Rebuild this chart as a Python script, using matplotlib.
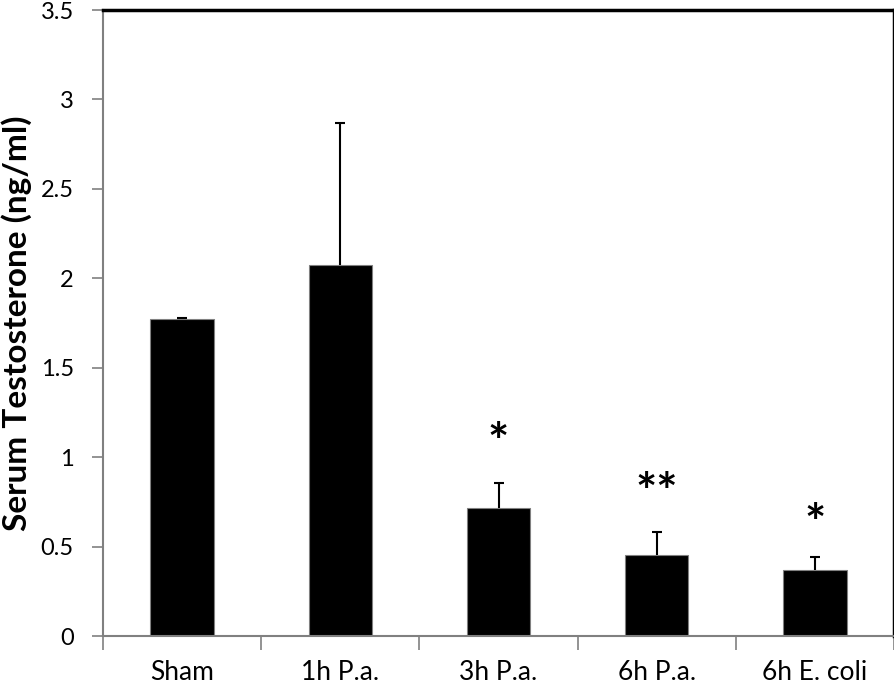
import numpy as np
import matplotlib
matplotlib.use("Agg")
import matplotlib.pyplot as plt

groups = ["Sham", "1h P.a.", "3h P.a.", "6h P.a.", "6h E. coli"]
means = [1.775, 2.072, 0.716, 0.453, 0.369]
errs = [0.005, 0.796, 0.140, 0.129, 0.073]
stars = ["", "", "*", "**", "*"]
star_y = [0, 0, 1.07, 0.79, 0.62]

plt.rcParams['font.family'] = ['Lato', 'DejaVu Sans']

fig = plt.figure(figsize=(8.95, 6.87), dpi=100)
ax = fig.add_axes([0.1151, 0.0742, 0.8838, 0.9112])

x = np.arange(len(groups))
ax.bar(x, means, width=0.40, color='black', edgecolor='#808080', linewidth=0.8, zorder=2)
# upper error bars only
eb = ax.errorbar(x, means, yerr=[np.zeros(len(errs)), errs], fmt='none', ecolor='black',
                 elinewidth=1.5, capsize=3.3, capthick=1.5, zorder=3)
eb[1][0].set_visible(False)

for xi, s, sy in zip(x, stars, star_y):
    if s:
        ax.text(xi, sy, s, ha='center', va='center', fontsize=36, fontweight='bold')

ax.set_xlim(-0.5, 4.5)
ax.set_ylim(0, 3.5)
ax.set_yticks(np.arange(0, 3.51, 0.5))
ax.set_yticklabels(["0", "0.5", "1", "1.5", "2", "2.5", "3", "3.5"], fontsize=17)
ax.set_xticks(np.arange(-0.5, 4.6, 1.0))
ax.set_xticklabels([])
ax.set_xticks(x, minor=True)
ax.set_xticklabels(groups, minor=True, fontsize=19)
ax.tick_params(axis='x', which='major', direction='out', length=10, width=1.2, color='#808080')
ax.tick_params(axis='x', which='minor', length=0, pad=17)
ax.tick_params(axis='y', direction='out', length=8, width=1.2, color='#808080', pad=13)

ax.set_ylabel("Serum Testosterone (ng/ml)", fontsize=24, fontweight='bold', labelpad=6)

for side in ['left', 'bottom']:
    ax.spines[side].set_color('#808080')
    ax.spines[side].set_linewidth(1.5)
for side in ['top', 'right']:
    ax.spines[side].set_color('black')
    ax.spines[side].set_linewidth(2.5)

fig.savefig("out.png", dpi=100)
